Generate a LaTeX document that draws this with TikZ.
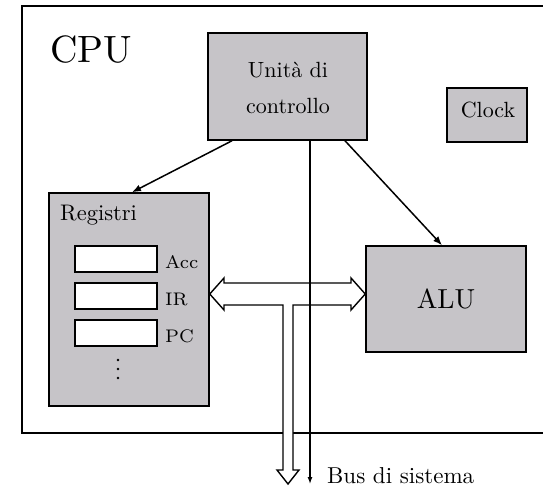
\documentclass[tikz,border=0pt]{standalone}
\usepackage{graphicx}
\usetikzlibrary{arrows.meta,calc}
\definecolor{boxgray}{RGB}{198,196,200}
\newcommand{\zoomtext}[2]{\scalebox{#1}{#2}}
\begin{document}
\begin{tikzpicture}[x=1pt,y=-1pt,
  block/.style={draw=black, line width=1.5pt, fill=boxgray, inner sep=0pt},
  regcell/.style={draw=black, line width=1.5pt, fill=white, minimum width=82pt, minimum height=26pt, inner sep=0pt},
  lbl/.style={inner sep=0pt},
  link/.style={line width=1.5pt, -{Latex[length=9pt,width=7pt]}},
  buslink/.style={line width=1.3pt, -{Latex[length=7pt,width=5pt]}},
  frame/.style={line width=1.6pt},
  bigarrow/.style={line width=1.4pt, fill=white, line join=miter},
  dot/.style={fill=black, circle, inner sep=0pt, minimum size=2.6pt}
]
\useasboundingbox (0,0) rectangle (543,489);

% CPU frame (right side runs off the picture)
\coordinate (ftr) at (545,6);
\coordinate (ftl) at (22,6);
\coordinate (fbl) at (22,433);
\coordinate (fbr) at (545,433);
\draw[frame] (ftr) -- (ftl) -- (fbl) -- (fbr);
\node[lbl, anchor=base west] (cpu) at (50,63) {\zoomtext{3.8}{CPU}};

% Control unit
\node[block, minimum width=159pt, minimum height=107pt] (udc) at (287.5,86.5) {};
\node[lbl, anchor=base] (udcA) at (288,78) {\zoomtext{2.2}{Unità di}};
\node[lbl, anchor=base] (udcB) at (288,114) {\zoomtext{2.2}{controllo}};

% Clock
\node[block, minimum width=80pt, minimum height=54pt] (clock) at (487,115) {};
\node[lbl, anchor=base] (clockt) at (488,118) {\zoomtext{2.2}{Clock}};

% Registers
\node[block, minimum width=160pt, minimum height=213pt] (reg) at (129,299.5) {};
\node[lbl, anchor=base west] (regt) at (60,220) {\zoomtext{2.25}{Registri}};
\node[regcell] (acc) at (116,259) {};
\node[regcell] (ir) at (116,296) {};
\node[regcell] (pc) at (116,333) {};
\node[lbl, anchor=base west] (acct) at (165,268) {\zoomtext{2.6}{\fontsize{7}{8}\selectfont Acc}};
\node[lbl, anchor=base west] (irt) at (165,305) {\zoomtext{2.6}{\fontsize{7}{8}\selectfont IR}};
\node[lbl, anchor=base west] (pct) at (165,342) {\zoomtext{2.6}{\fontsize{7}{8}\selectfont PC}};
\node[dot] (d1) at (118,360) {};
\node[dot] (d2) at (118,369) {};
\node[dot] (d3) at (118,378) {};

% ALU
\node[block, minimum width=160pt, minimum height=106pt] (alu) at (446,299) {\zoomtext{2.75}{ALU}};

% control connections
\draw[link] (udc.south -| 232,0) -- (reg.north -| 132,0);
\draw[link] (udc.south -| 345,0) -- (alu.north -| 442,0);

% data bus (white double arrow with branch down)
\coordinate (bl) at (reg.east |- 0,294);
\coordinate (br) at (alu.west |- 0,294);
\coordinate (bd) at (288,484);
\draw[bigarrow] (bl) -- (224,278) -- (224,283) -- (351,283) -- (351,278) -- (br)
  -- (351,310) -- (351,305) -- (293,305) -- (293,470) -- (299,470) -- (bd)
  -- (277,470) -- (283,470) -- (283,305) -- (224,305) -- (224,310) -- cycle;

% control/bus line
\coordinate (busend) at (310,484);
\draw[buslink] (udc.south -| busend) -- (busend);
\node[lbl, anchor=base west] (bust) at (327,483) {\zoomtext{2.3}{Bus di sistema}};
\end{tikzpicture}
\end{document}
